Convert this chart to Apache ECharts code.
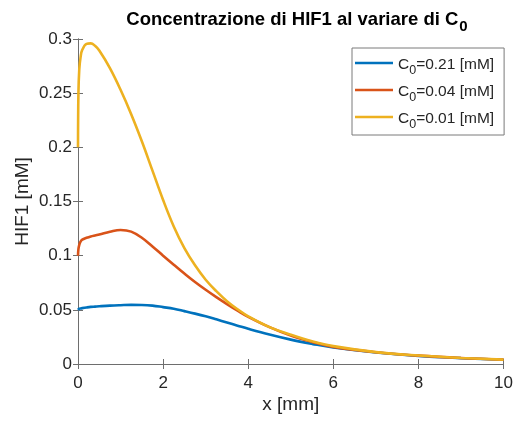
<!DOCTYPE html>
<html>
<head>
<meta charset="utf-8">
<script src="https://cdn.jsdelivr.net/npm/echarts@6/dist/echarts.min.js"></script>
<style>html,body{margin:0;padding:0;background:#fff}#c{width:516px;height:421px}</style>
</head>
<body>
<div id="c"></div>
<script>
var xs    = [0, 0.01, 0.03, 0.06, 0.1, 0.2, 0.3, 0.4, 0.5, 0.75, 1.0, 1.25, 1.5, 1.75, 2.0, 2.25, 2.5, 2.75, 3.0, 3.25, 3.5, 3.75, 4.0, 4.5, 5.0, 5.5, 6.0, 7.0, 8.0, 9.0, 10.0];
var c021  = [0.050, 0.0505, 0.051, 0.0513, 0.0516, 0.0522, 0.0527, 0.0530, 0.0533, 0.0539, 0.0543, 0.0546, 0.0545, 0.0539, 0.0525, 0.0510, 0.0488, 0.0465, 0.0440, 0.0412, 0.0383, 0.0354, 0.0325, 0.0272, 0.0225, 0.0186, 0.0152, 0.0106, 0.0074, 0.0054, 0.0039];
var c004  = [0.100, 0.106, 0.110, 0.113, 0.1148, 0.1165, 0.1178, 0.1187, 0.1195, 0.1220, 0.1237, 0.1222, 0.1165, 0.1085, 0.100, 0.0917, 0.0835, 0.0757, 0.0685, 0.0617, 0.0553, 0.0492, 0.0435, 0.0340, 0.0262, 0.0204, 0.0158, 0.0108, 0.0077, 0.0055, 0.0040];
var c001  = [0.200, 0.250, 0.272, 0.283, 0.290, 0.2955, 0.2960, 0.2937, 0.2893, 0.2731, 0.2531, 0.2306, 0.2056, 0.1785, 0.1514, 0.1270, 0.1070, 0.0911, 0.0778, 0.0672, 0.0580, 0.0505, 0.0440, 0.0340, 0.0270, 0.0210, 0.0165, 0.0110, 0.0078, 0.0056, 0.0040];
var seriesNames = ['0.21', '0.04', '0.01'];
var xTicks = [0, 2, 4, 6, 8, 10];
var yTicks = [0, 0.05, 0.1, 0.15, 0.2, 0.25, 0.3];

function zip(x, y) { return x.map(function (v, i) { return [v, y[i]]; }); }
var FONT = "'Liberation Sans', Arial, Helvetica, sans-serif";
var TXT = '#262626';
var AX = '#6e6e6e';
var colors = ['#0072BD', '#D95319', '#EDB120'];
var vals = [c021, c004, c001];

var chart = echarts.init(document.getElementById('c'), null, {renderer: 'canvas'});
var axisCommon = {
  type: 'value',
  axisLine: {show: true, lineStyle: {color: AX, width: 1}},
  axisTick: {show: true, inside: true, length: 5, lineStyle: {color: AX, width: 1}},
  splitLine: {show: false}
};
var option = {
  animation: false,
  backgroundColor: '#fff',
  textStyle: {fontFamily: FONT},
  title: {
    text: '{t|Concentrazione di HIF1 al variare di C}{s|0}',
    left: 292, textAlign: 'center', top: 5,
    textStyle: {
      rich: {
        t: {fontSize: 18.5, fontWeight: 'bold', color: '#000', fontFamily: FONT, lineHeight: 22, verticalAlign: 'top'},
        s: {fontSize: 15, fontWeight: 'bold', color: '#000', fontFamily: FONT, lineHeight: 18, padding: [9, 0, 0, 1], verticalAlign: 'top'}
      }
    }
  },
  grid: {left: 78, right: 10, top: 39, bottom: 57, containLabel: false},
  legend: {
    orient: 'vertical',
    left: 352, top: 48,
    padding: [5, 10, 4, 3],
    itemGap: 3,
    icon: 'rect',
    itemWidth: 38, itemHeight: 2.5,
    itemStyle: {borderWidth: 0},
    backgroundColor: '#fff',
    borderColor: '#7a7a7a', borderWidth: 1,
    data: seriesNames.map(function (n) { return 'C0=' + n + ' [mM]'; }),
    formatter: function (name) { return '{c|C}{s|0}{c|' + name.slice(2) + '}'; },
    textStyle: {
      rich: {
        c: {fontSize: 15.5, color: TXT, fontFamily: FONT, lineHeight: 20, padding: [4, 0, 0, 0], verticalAlign: 'top'},
        s: {fontSize: 12.5, color: TXT, fontFamily: FONT, lineHeight: 14, padding: [11, 0, 0, 0], verticalAlign: 'top'}
      }
    }
  },
  xAxis: [
    Object.assign({}, axisCommon, {
      min: 0, max: 10, interval: 2, position: 'bottom',
      name: 'x [mm]', nameLocation: 'middle', nameGap: 31, nameMoveOverlap: false,
      nameTextStyle: {fontSize: 19, color: TXT, fontFamily: FONT},
      axisLabel: {fontSize: 17, color: TXT, margin: 11, fontFamily: FONT}
    }),
    Object.assign({}, axisCommon, {
      min: 0, max: 10, interval: 2, position: 'top',
      axisLabel: {show: false}
    })
  ],
  yAxis: [
    Object.assign({}, axisCommon, {
      min: 0, max: 0.3, interval: 0.05, position: 'left',
      name: 'HIF1 [mM]', nameLocation: 'middle', nameGap: 46, nameRotate: 90, nameMoveOverlap: false,
      nameTextStyle: {fontSize: 19, color: TXT, fontFamily: FONT},
      axisLabel: {fontSize: 17, color: TXT, margin: 6, fontFamily: FONT,
        formatter: function (v) { return String(+v.toFixed(2)); }}
    }),
    Object.assign({}, axisCommon, {
      min: 0, max: 0.3, interval: 0.05, position: 'right',
      axisLabel: {show: false}
    })
  ],
  series: vals.map(function (arr, i) {
    return {
      name: 'C0=' + seriesNames[i] + ' [mM]',
      type: 'line',
      xAxisIndex: 0, yAxisIndex: 0,
      data: zip(xs, arr),
      showSymbol: false, symbol: 'none',
      smooth: 0.4,
      color: colors[i],
      lineStyle: {color: colors[i], width: 2.6},
      z: 2 + i
    };
  })
};
chart.setOption(option);
</script>
</body>
</html>
